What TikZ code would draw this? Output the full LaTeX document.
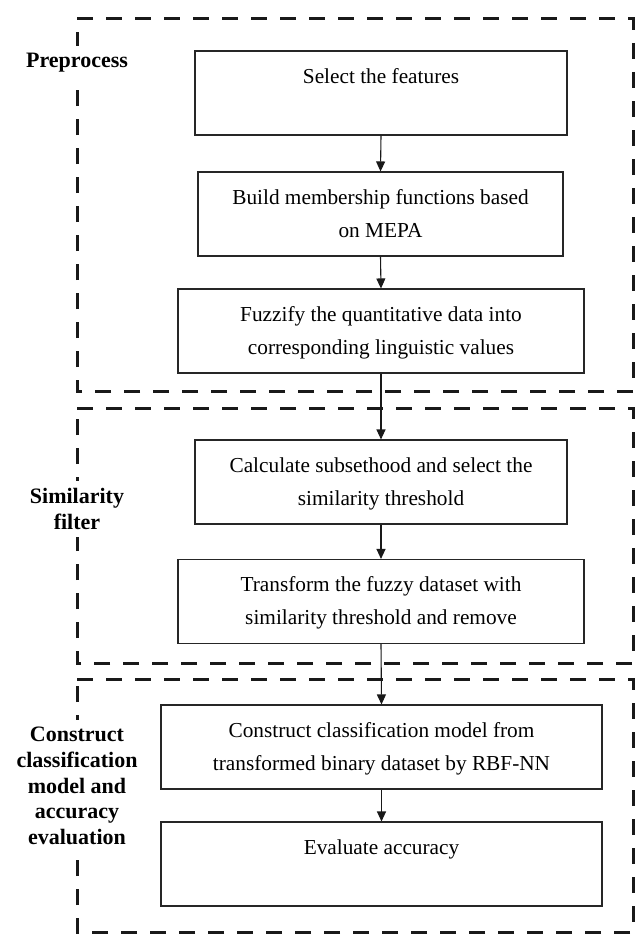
\documentclass[tikz,border=0pt]{standalone}
\usepackage{fontspec}
\setmainfont{Liberation Serif}
\usetikzlibrary{arrows.meta}
\newcommand{\twoln}[2]{\strut #1\strut\\\strut #2\strut}
\begin{document}
\begin{tikzpicture}[x=1pt,y=-1pt,
  stepbox/.style={draw=black!85,line width=1.1pt,inner sep=0pt,align=center,
    font=\fontsize{21.3}{33}\selectfont,minimum height=84pt},
  phase/.style={draw=black!90,line width=3pt,dash pattern=on 16pt off 13pt},
  phaselabel/.style={fill=white,inner sep=7pt,align=center,
    font=\fontsize{22}{25.7}\selectfont\bfseries},
  flow/.style={draw=black!90,line width=1.1pt,-{Triangle[length=10pt,width=9pt]}}]
\useasboundingbox (0,0) rectangle (635,934);
% phase frames
\draw[phase] (77,19) -- (633,19) -- (633,391) -- (77,391) -- cycle;
\draw[phase] (77,408) -- (633,408) -- (633,663) -- (77,663) -- cycle;
\draw[phase] (77,679) -- (633,679) -- (633,932) -- (77,932) -- cycle;
% phase labels
\node[phaselabel] (l1) at (77,63) {Preprocess};
\node[phaselabel] (l2) at (77,509) {Similarity\\filter};
\node[phaselabel] (l3) at (77,786) {Construct\\classification\\model and\\accuracy\\evaluation};
% steps
\node[stepbox,minimum width=372pt] (b1) at (381,93) {\twoln{Select the features}{}};
\node[stepbox,minimum width=365pt] (b2) at (380.5,214) {\twoln{Build membership functions based}{on MEPA}};
\node[stepbox,minimum width=406pt] (b3) at (381,331) {\twoln{Fuzzify the quantitative data into}{corresponding linguistic values}};
\node[stepbox,minimum width=372pt] (b4) at (381,482) {\twoln{Calculate subsethood and select the}{similarity threshold}};
\node[stepbox,minimum width=406pt] (b5) at (381,601.5) {\twoln{Transform the fuzzy dataset with}{similarity threshold and remove}};
\node[stepbox,minimum width=441pt] (b6) at (381.5,747) {\twoln{Construct classification model from}{transformed binary dataset by RBF-NN}};
\node[stepbox,minimum width=441pt] (b7) at (381.5,864) {\twoln{Evaluate accuracy}{}};
% arrows
\draw[flow] (b1.south) -- (b2.north);
\draw[flow] (b2.south) -- (b3.north);
\draw[flow] (b3.south) -- (b4.north);
\draw[flow] (b4.south) -- (b5.north);
\draw[flow] (b5.south) -- (b6.north);
\draw[flow] (b6.south) -- (b7.north);
\end{tikzpicture}
\end{document}
